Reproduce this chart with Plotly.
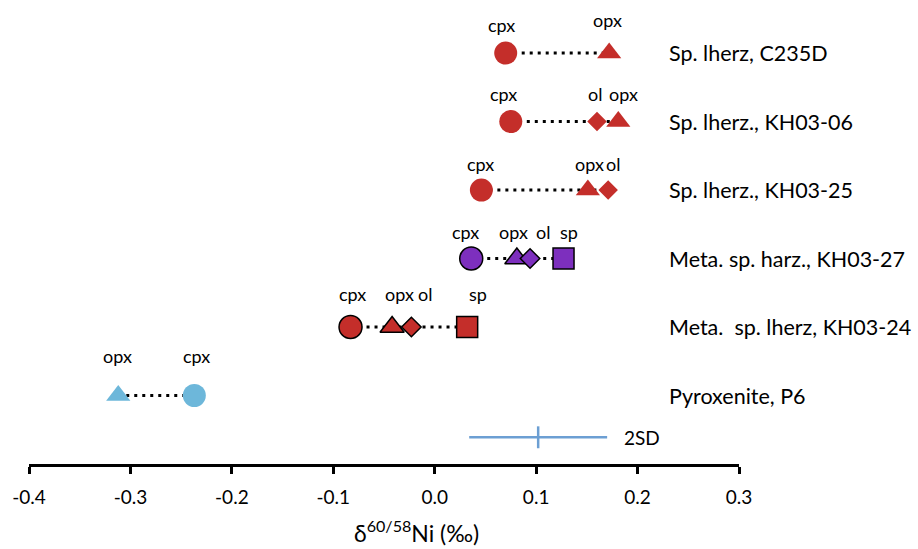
import plotly.graph_objects as go

# ---------------- data ----------------
rows = ["Sp. lherz, C235D", "Sp. lherz., KH03-06", "Sp. lherz., KH03-25",
        "Meta. sp. harz., KH03-27", "Meta.\u00a0 sp. lherz, KH03-24", "Pyroxenite, P6"]
row_y = [6, 5, 4, 3, 2, 1]
cpx = [0.070, 0.075, 0.046, 0.036, -0.083, -0.237]
opx = [0.172, 0.181, 0.151, 0.081, -0.042, -0.312]
ol = [None, 0.160, 0.171, 0.094, -0.023, None]
sp = [None, None, None, 0.127, 0.032, None]
sd_center = 0.102
sd_half = 0.068
sd_y = 0.39
tick_vals = [-0.4, -0.3, -0.2, -0.1, 0.0, 0.1, 0.2, 0.3]
tick_text = ["-0.4", "-0.3", "-0.2", "-0.1", "0.0", "0.1", "0.2", "0.3"]

# ---------------- styles ----------------
RED = "#C42E2A"
PURPLE = "#7D2FBE"
BLUE = "#6DB7DA"
SDBLUE = "#6C9FD3"
row_color = [RED, RED, RED, PURPLE, RED, BLUE]
row_outline = [0, 0, 0, 1.5, 1.5, 0]
label_dy = [28, 28, 26, 27, 33, 40]
# per-label horizontal nudges (px) for crowded rows
shift = {
    "cpx": [-4, -7, -1, -6, 2, 2],
    "opx": [-2, 5, 2, -3, 7, -1],
    "ol": [0, -2, 5, 13, 14, 0],
    "sp": [0, 0, 0, 5, 11, 0],
}
extra_dy = {"opx": [5, 0, 0, 0, 0, 0]}
FONT = "Lato"

fig = go.Figure()

# dotted connectors
for i, y in enumerate(row_y):
    vals = [v for v in (cpx[i], opx[i], ol[i], sp[i]) if v is not None]
    fig.add_trace(go.Scatter(
        x=[min(vals), max(vals)], y=[y, y], mode="lines",
        line=dict(color="black", width=3, dash="3px,5px"),
        hoverinfo="skip", showlegend=False))

symbols = {"cpx": ("circle", 23), "opx": ("triangle-up", 21),
           "ol": ("diamond", 15), "sp": ("square", 21)}
series = {"cpx": cpx, "opx": opx, "ol": ol, "sp": sp}

annotations = []
for name in ["cpx", "opx", "ol", "sp"]:
    vals = series[name]
    sym, size = symbols[name]
    xs, ys, cols, lws = [], [], [], []
    for i, v in enumerate(vals):
        if v is None:
            continue
        xs.append(v)
        ys.append(row_y[i])
        cols.append(row_color[i])
        lws.append(row_outline[i])
        dy = label_dy[i] + extra_dy.get(name, [0] * 6)[i]
        annotations.append(dict(
            x=v, y=row_y[i], xref="x", yref="y", text=name, showarrow=False,
            xshift=shift[name][i], yshift=dy, xanchor="center", yanchor="middle",
            font=dict(family=FONT, size=18, color="black")))
    fig.add_trace(go.Scatter(
        x=xs, y=ys, mode="markers", showlegend=False, cliponaxis=False,
        marker=dict(symbol=sym, size=size, color=cols,
                    line=dict(color="black", width=lws))))

# row labels
for i, y in enumerate(row_y):
    annotations.append(dict(
        x=0.229, y=y, xref="x", yref="y", text=rows[i], showarrow=False,
        xanchor="left", yanchor="middle",
        font=dict(family=FONT, size=21.5, color="black")))

# 2SD bar
fig.add_trace(go.Scatter(
    x=[sd_center - sd_half, sd_center + sd_half], y=[sd_y, sd_y], mode="lines",
    line=dict(color=SDBLUE, width=2.5), hoverinfo="skip", showlegend=False))
fig.add_trace(go.Scatter(
    x=[sd_center, sd_center], y=[sd_y - 0.16, sd_y + 0.16], mode="lines",
    line=dict(color=SDBLUE, width=2.5), hoverinfo="skip", showlegend=False))
annotations.append(dict(
    x=sd_center + sd_half, y=sd_y, xref="x", yref="y", text="2SD",
    showarrow=False, xanchor="left", yanchor="middle", xshift=15,
    font=dict(family=FONT, size=19, color="black")))

# axis title
annotations.append(dict(
    x=-0.018, y=0, xref="x", yref="paper", text="δ<sup>60/58</sup>Ni (‰)",
    showarrow=False, xanchor="center", yanchor="middle", yshift=-67,
    font=dict(family=FONT, size=23, color="black")))

fig.update_layout(
    width=918, height=549,
    margin=dict(l=29, r=179, t=0, b=85),
    paper_bgcolor="white", plot_bgcolor="white",
    annotations=annotations,
    xaxis=dict(range=[-0.4, 0.3], tickvals=tick_vals, ticktext=tick_text,
               showgrid=False, zeroline=False, showline=True,
               linecolor="black", linewidth=2.5, ticks="outside",
               ticklen=7, tickwidth=2.5, tickcolor="black",
               ticklabelstandoff=7,
               tickfont=dict(family=FONT, size=19, color="black")),
    yaxis=dict(range=[0, 6.774], visible=False, showgrid=False, zeroline=False),
)

fig.write_html("out.html")
